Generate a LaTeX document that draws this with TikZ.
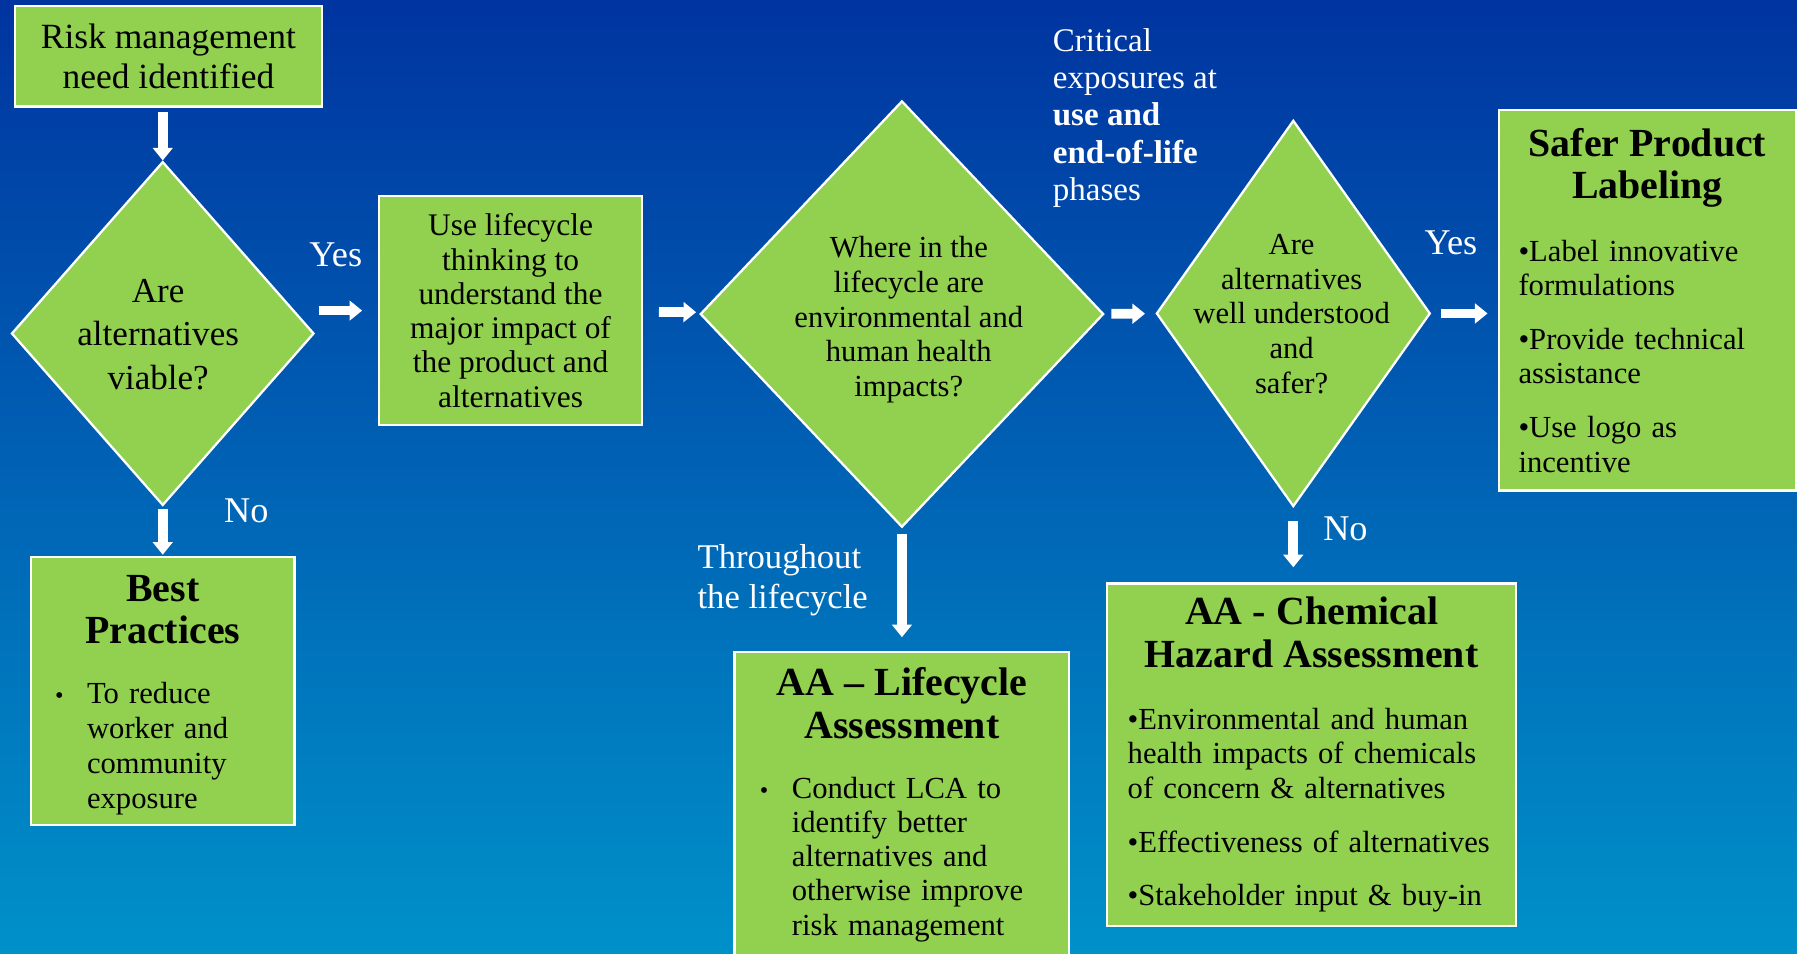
\documentclass[tikz,border=0pt]{standalone}
\usepackage{fontspec}
\setmainfont{Liberation Serif}
\usetikzlibrary{arrows.meta,positioning,shapes.geometric}
\definecolor{leaf}{HTML}{92D050}
\definecolor{skytop}{HTML}{0034A0}
\definecolor{skybottom}{HTML}{0091C9}
\newcommand{\headline}[2][7pt]{{\centering\bfseries\fontsize{9.9}{10.6}\selectfont #2\par}\vspace{#1}}
\newcommand{\itemgap}{\par\vspace{4.9pt}}
\newcommand{\dotitem}{\hangindent=2.8mm\hangafter=1\makebox[2.8mm][l]{\fontsize{6}{6}\selectfont •}}
\tikzset{block/.style={ % Green boxes
            draw=white, line width=0.2mm, fill=leaf,
            inner sep=0pt, align=center},
        decision/.style={ % Green question diamonds, text is put on top
            diamond, draw=white, line width=0.2mm, fill=leaf,
            inner sep=0pt},
        qtext/.style={align=center, inner sep=0pt},
        note/.style={ % White labels on the background
            text=white, inner sep=0pt, align=left,
            font=\fontsize{9}{10}\selectfont},
        every edge/.style={ % Sets the properties for each arrow
            draw=white,
            line width=0.85mm,
            -{Triangle[length=1.1mm,width=1.7mm]}}
        }

\begin{document}
\begin{tikzpicture}[x=0.1mm, y=-0.1mm]
    \shade[top color=skytop, bottom color=skybottom] (0,0) rectangle (1568,832);
    \useasboundingbox (0,0) rectangle (1568,832);

    % top row
    \node[block, minimum width=26.8mm, minimum height=8.8mm,
          font=\fontsize{8.8}{10}\selectfont] (risk) at (147,49)
          {Risk management\\need identified};
    \node[decision, minimum width=26.4mm, minimum height=30mm] (q1) at (142,291) {};
    \node[qtext, font=\fontsize{8.7}{10.8}\selectfont] (q1txt) at (138,292)
          {Are\\alternatives\\viable?};
    \node[block, minimum width=22.9mm, minimum height=20mm,
          font=\fontsize{7.8}{8.5}\selectfont] (lc) at (445.5,271)
          {Use lifecycle\\thinking to\\understand the\\major impact of\\the product and\\alternatives};
    \node[decision, minimum width=35.2mm, minimum height=37.2mm] (q2) at (787,274) {};
    \node[qtext, font=\fontsize{7.6}{8.6}\selectfont] (q2txt) at (793,279)
          {Where in the\\lifecycle are\\environmental and\\human health\\impacts?};
    \node[decision, minimum width=23.9mm, minimum height=33.7mm] (q3) at (1128.5,273.5) {};
    \node[qtext, font=\fontsize{7.6}{8.6}\selectfont] (q3txt) at (1127,274)
          {Are\\alternatives\\well understood\\and\\safer?};
    \node[block, minimum width=25.9mm, minimum height=33.2mm, text width=22.5mm,
          align=left, font=\fontsize{7.6}{8.5}\selectfont] (safer) at (1437.5,262)
          {\headline{Safer Product\\Labeling}
           •Label innovative\\formulations\itemgap
           •Provide technical\\assistance\itemgap
           •Use logo as\\incentive};

    % bottom row
    \node[block, minimum width=23mm, minimum height=23.4mm, text width=18.8mm,
          align=left, font=\fontsize{7.6}{8.7}\selectfont] (best) at (142,603)
          {\hrule height 0pt\vspace{2pt}
           \headline[6.15pt]{Best\\Practices}
           \dotitem To reduce\newline worker and\newline community\newline exposure\par};
    \node[block, anchor=north, minimum width=29.2mm, minimum height=26.6mm, text width=24.8mm,
          align=left, font=\fontsize{7.6}{8.5}\selectfont] (lca) at (787,568)
          {\headline[6.4pt]{AA -- Lifecycle\\Assessment}
           \dotitem Conduct LCA to\newline identify better\newline alternatives and\newline
           otherwise improve\newline risk management\par};
    \node[block, minimum width=35.7mm, minimum height=29.9mm, text width=32.1mm,
          align=left, font=\fontsize{7.6}{8.5}\selectfont] (chem) at (1144.5,658.5)
          {\headline{AA - Chemical\\Hazard Assessment}
           •Environmental and human\\health impacts of chemicals\\of concern \& alternatives\itemgap
           •Effectiveness of alternatives\itemgap
           •Stakeholder input \& buy-in};

    % white labels
    \node[note, anchor=north west, font=\fontsize{8.2}{9.25}\selectfont] (crit) at (918,24)
          {Critical\\exposures at\\\textbf{use and}\\\textbf{end-of-life}\\phases};
    \node[note, anchor=north west, font=\fontsize{8.6}{10}\selectfont] (thru) at (608,474)
          {Throughout\\the lifecycle};
    \node[note] (yes1) at (293,222) {Yes};
    \node[note] (yes2) at (1266,212) {Yes};
    \node[note] (no1) at (215,446) {No};
    \node[note] (no2) at (1174,461) {No};

    \draw
        (q1.north |- risk.south) edge[shorten <=0.4mm] (q1.north)
        (q1.east |- lc) edge[shorten <=0.3mm, shorten >=1.4mm] (lc)
        (lc) edge[shorten <=1.4mm, shorten >=0.4mm] (q2)
        (q2) edge[shorten <=0.6mm, shorten >=0.9mm] (q3)
        (q3) edge[shorten <=0.8mm, shorten >=0.9mm] (q3 -| safer.west)
        (q1) edge[shorten <=0.2mm, shorten >=0.1mm] (q1 |- best.north)
        (q2) edge[shorten <=0.5mm, shorten >=1.2mm] (q2 |- lca.north)
        (q3) edge[shorten <=1.2mm, shorten >=1.3mm] (q3 |- chem.north);
\end{tikzpicture}
\end{document}
